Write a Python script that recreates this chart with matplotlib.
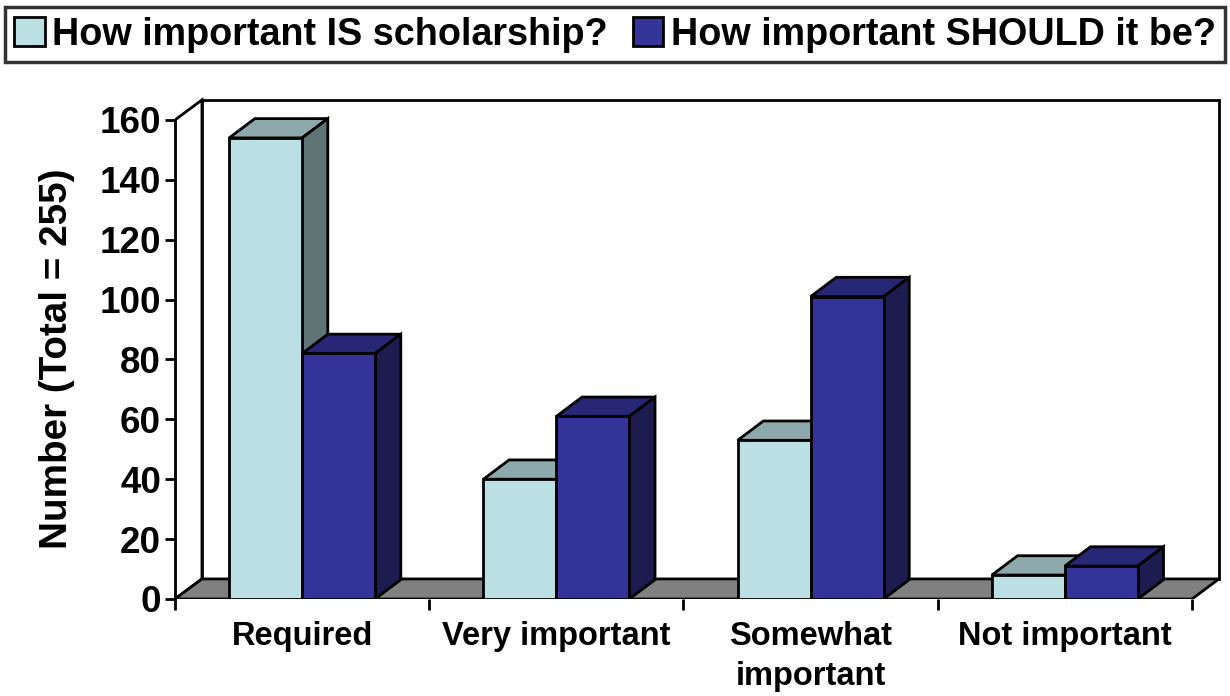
import matplotlib as mpl
mpl.use('Agg')
import matplotlib.pyplot as plt
from matplotlib.patches import Polygon, Patch

plt.rcParams['font.family'] = ['Liberation Sans', 'DejaVu Sans']
plt.rcParams['font.weight'] = 'bold'
plt.rcParams['axes.labelweight'] = 'bold'

categories = ['Required', 'Very important', 'Somewhat\nimportant', 'Not important']
series_names = ['How important IS scholarship?', 'How important SHOULD it be?']
is_values = [154, 40, 53, 8]
should_values = [82, 61, 101, 11]

# front / top / side colours for each series
front_cols = ['#BBE0E3', '#333399']
top_cols = ['#8EA9AB', '#272775']
side_cols = ['#5F7475', '#1C1C50']

Y_MAX = 160
# depth offset of the floor/walls and of the bars (data units)
DX, DY = 0.106, 6.7
BDX, BDY = 0.101, 6.45
BAR_W = 0.287

fig = plt.figure(figsize=(12.3, 6.96), dpi=100)
ax = fig.add_axes([175 / 1230, 97 / 696, 1047.5 / 1230, 503 / 696])
n = len(categories)
ax.set_xlim(0, n + 0.12)
ax.set_ylim(0, 168)

# left wall, back wall, floor
ax.add_patch(Polygon([(0, 0), (0, Y_MAX), (DX, Y_MAX + DY), (DX, DY)],
                     closed=True, facecolor='white', edgecolor='black', lw=2, zorder=1))
ax.add_patch(Polygon([(DX, DY), (DX, Y_MAX + DY), (n + DX, Y_MAX + DY), (n + DX, DY)],
                     closed=True, facecolor='white', edgecolor='black', lw=2, zorder=1))
ax.add_patch(Polygon([(0, 0), (n, 0), (n + DX, DY), (DX, DY)],
                     closed=True, facecolor='#808080', edgecolor='black', lw=2, zorder=2))

z = 3
for i in range(n):
    for k, vals in enumerate([is_values, should_values]):
        x0 = i + 0.5 - BAR_W + k * BAR_W
        h = vals[i]
        ax.bar(x0, h, width=BAR_W, align='edge', color=front_cols[k],
               edgecolor='black', linewidth=2, zorder=z + 0.5)
        ax.add_patch(Polygon([(x0, h), (x0 + BDX, h + BDY), (x0 + BAR_W + BDX, h + BDY), (x0 + BAR_W, h)],
                             closed=True, facecolor=top_cols[k], edgecolor='black', lw=2, zorder=z))
        ax.add_patch(Polygon([(x0 + BAR_W, 0), (x0 + BAR_W, h), (x0 + BAR_W + BDX, h + BDY), (x0 + BAR_W + BDX, BDY)],
                             closed=True, facecolor=side_cols[k], edgecolor='black', lw=2, zorder=z))
        z += 1

for s in ['top', 'right', 'bottom']:
    ax.spines[s].set_visible(False)
ax.spines['left'].set_bounds(0, Y_MAX)
ax.spines['left'].set_linewidth(2)
ax.spines['left'].set_zorder(50)

ax.set_yticks(range(0, Y_MAX + 1, 20))
ax.tick_params(axis='y', direction='out', length=7, width=2, pad=3, labelsize=26.5)
ax.set_xticks(range(n + 1))
ax.set_xticklabels([])
ax.set_xticks([i + 0.5 for i in range(n)], minor=True)
ax.set_xticklabels(categories, minor=True, fontsize=23.5, linespacing=1.35, va='top')
ax.tick_params(axis='x', which='major', direction='out', length=8, width=2)
ax.tick_params(axis='x', which='minor', length=0, pad=16)
ax.set_ylabel('Number (Total = 255)', fontsize=27.8, labelpad=18)
ax.yaxis.label.set_y(0.477)
ax.patch.set_visible(False)

handles = [Patch(facecolor=c, edgecolor='black', linewidth=2) for c in front_cols]
leg = fig.legend(handles, series_names, loc='lower left', ncol=2, mode='expand',
                 bbox_to_anchor=(5 / 1230, 1 - 62 / 696, 1220 / 1230, 59 / 696),
                 fontsize=27.2, frameon=True, fancybox=False, edgecolor='black',
                 handlelength=0.8, handleheight=0.8, handletextpad=0.2,
                 columnspacing=0.4, borderpad=0.25, borderaxespad=0)
leg.get_frame().set_linewidth(2.5)

fig.savefig('out.png', dpi=100)
